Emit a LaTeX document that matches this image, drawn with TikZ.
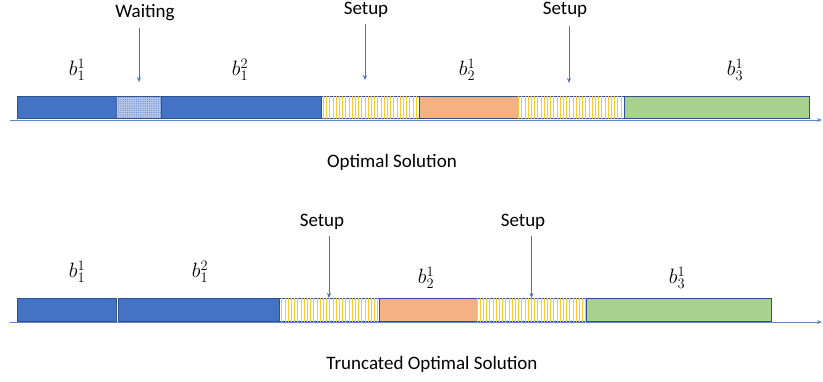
\documentclass[tikz,border=0pt]{standalone}
\usepackage{amsmath}
\usepackage{fontspec}
\setmainfont{Carlito}
\usetikzlibrary{arrows.meta,positioning,patterns.meta}
\definecolor{jobblue}{HTML}{4472C4}
\definecolor{edgeblue}{HTML}{2F528F}
\definecolor{joborange}{HTML}{F4B183}
\definecolor{jobgreen}{HTML}{A9D18E}
\definecolor{setupyellow}{HTML}{FFC000}
\definecolor{waitfill}{HTML}{B8C9EA}
\definecolor{waitdot}{HTML}{6283C8}

\begin{document}
\begin{tikzpicture}[
  x=1pt, y=-1pt,
  node distance=0pt,
  job/.style={draw=edgeblue, line width=0.8pt, minimum height=22pt,
              inner sep=0pt, outer sep=0pt},
  blue/.style={job, fill=jobblue},
  orng/.style={job, fill=joborange},
  grn/.style={job, fill=jobgreen},
  setupbox/.style={job, fill=white,
              postaction={pattern={Lines[angle=90,distance=3.2pt,line width=0.55pt]},
                          pattern color=setupyellow!85}},
  waitbox/.style={job, fill=waitfill,
              postaction={pattern={Dots[distance=2.2pt,radius=0.6pt]},
                          pattern color=waitdot}},
  lbl/.style={font=\fontsize{19}{22}\selectfont},
  jlbl/.style={font=\fontsize{22}{26}\selectfont},
  arr/.style={-{Stealth[length=5pt,width=4pt]}, jobblue, line width=0.7pt},
  axis/.style={-{Stealth[length=5pt,width=4pt]}, jobblue!85, line width=0.8pt},
]
\useasboundingbox (0,0) rectangle (823,381);

% ---------- Optimal solution ----------
\coordinate (axT0) at (10,120);
\coordinate (axT1) at (822,120);
\draw[axis] (axT0) -- (axT1);

\node[blue, minimum width=99pt, anchor=north west] (t11) at (17,96) {};
\node[waitbox, minimum width=45pt, right=of t11] (twait) {};
\node[blue, minimum width=160pt, right=of twait] (t12) {};
\node[setupbox, minimum width=98pt, right=of t12] (tsetA) {};
\node[orng, minimum width=99pt, right=of tsetA] (t21) {};
\node[setupbox, minimum width=106pt, right=of t21] (tsetB) {};
\node[grn, minimum width=185pt, right=of tsetB] (t31) {};

\node[jlbl] (lt11) at (77,70) {$b_1^1$};
\node[jlbl] (lt12) at (240,70) {$b_1^2$};
\node[jlbl] (lt21) at (467,70) {$b_2^1$};
\node[jlbl] (lt31) at (735,70) {$b_3^1$};

\node[lbl] (ltwait) at (145,13) {Waiting};
\node[lbl] (ltsetA) at (366,10) {Setup};
\node[lbl] (ltsetB) at (565,10) {Setup};
\coordinate (pwait) at (139,82);
\coordinate (psetA) at (365,80);
\coordinate (psetB) at (569,83);
\draw[arr] (pwait |- ltwait.south) ++(0,3) -- (pwait);
\draw[arr] (psetA |- ltsetA.south) ++(0,3) -- (psetA);
\draw[arr] (psetB |- ltsetB.south) ++(0,5) -- (psetB);

\node[lbl] (topt) at (392,162) {Optimal Solution};

% ---------- Truncated optimal solution ----------
\coordinate (axB0) at (10,322);
\coordinate (axB1) at (822,322);
\draw[axis] (axB0) -- (axB1);

\node[blue, minimum width=99pt, minimum height=23pt, anchor=north west] (b11) at (17,298) {};
\node[blue, minimum width=161pt, minimum height=23pt, right=2pt of b11] (b12) {};
\node[setupbox, minimum width=100pt, minimum height=23pt, right=of b12] (bsetA) {};
\node[orng, minimum width=98pt, minimum height=23pt, right=of bsetA] (b21) {};
\node[setupbox, minimum width=109pt, minimum height=23pt, right=of b21] (bsetB) {};
\node[grn, minimum width=185pt, minimum height=23pt, right=of bsetB] (b31) {};

\node[jlbl] (lb11) at (77,272) {$b_1^1$};
\node[jlbl] (lb12) at (200,272) {$b_1^2$};
\node[jlbl] (lb21) at (426,278) {$b_2^1$};
\node[jlbl] (lb31) at (677,278) {$b_3^1$};

\node[lbl] (lbsetA) at (322,222) {Setup};
\node[lbl] (lbsetB) at (523,222) {Setup};
\draw[arr] (lbsetA.south -| bsetA.north) ++(0,3) -- (bsetA.north);
\draw[arr] (lbsetB.south -| bsetB.north) ++(0,3) -- (bsetB.north);

\node[lbl] (bopt) at (432,364) {Truncated Optimal Solution};

\end{tikzpicture}
\end{document}
